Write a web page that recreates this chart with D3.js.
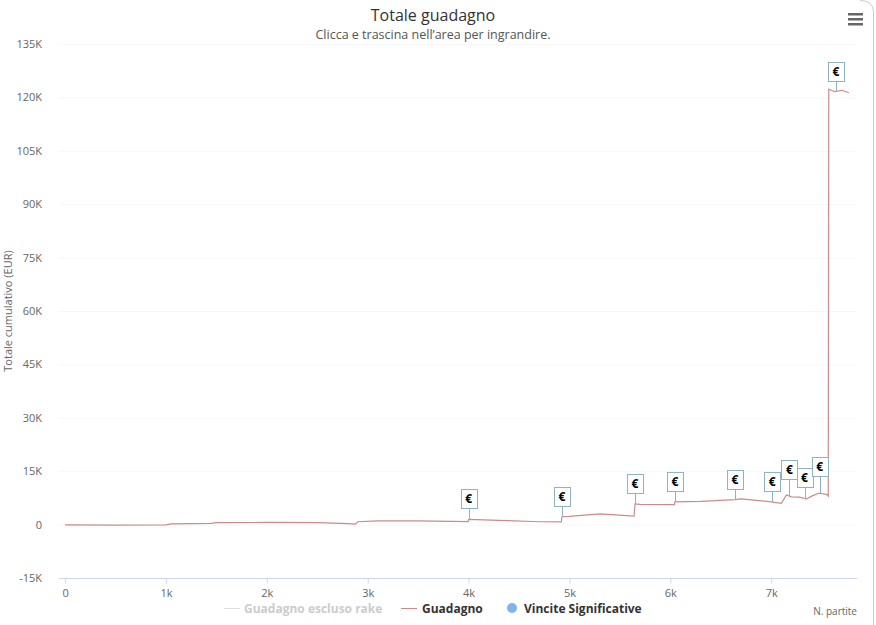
<!DOCTYPE html>
<html><head><meta charset="utf-8">
<script src="https://cdn.jsdelivr.net/npm/d3@7"></script>
<style>body{margin:0;background:#fff}svg{display:block;font-family:"Open Sans",sans-serif}</style>
</head><body><svg id="c" width="876" height="625"></svg>
<script>
// N. partite (games) and cumulative profit (EUR) for "Guadagno"
const games  = [0,500,1000,1050,1450,1500,2000,2500,2800,2880,2900,3100,3500,3995,4000,4300,4700,4920,4925,5000,5300,5640,5650,5700,6040,6045,6300,6640,6700,7000,7100,7150,7200,7280,7350,7400,7470,7550,7565,7570,7630,7700,7770];
const profit = [-100,-150,-100,200,350,550,600,550,300,150,800,1050,1050,850,1450,1200,800,750,2200,2300,3000,2400,5800,5700,5600,6400,6500,7000,7200,6400,6000,8300,7800,7700,7200,8000,8800,8500,8000,122300,121600,122000,121300];
// "Vincite Significative" flags (game index)
const flagGames = [4000,4925,5650,6045,6640,7010,7180,7330,7480,7640];
const yTicks = [-15000,0,15000,30000,45000,60000,75000,90000,105000,120000,135000];
const xTicks = [0,1000,2000,3000,4000,5000,6000,7000];

const svg = d3.select("#c");
const x = d3.scaleLinear().domain([-60,7850]).range([59,857]);
const y = d3.scaleLinear().domain([-15000,135000]).range([578,44]);

// gridlines
svg.append("g").selectAll("line").data(yTicks.slice(1)).join("line")
  .attr("x1",59).attr("x2",857).attr("y1",d=>y(d)+0.5).attr("y2",d=>y(d)+0.5)
  .attr("stroke","#f7f7f7");

// y axis labels
const yAxis = d3.axisLeft(y).tickValues(yTicks).tickSize(0).tickPadding(0)
  .tickFormat(d=>d===0?"0":(d/1000)+"K");
const gy = svg.append("g").attr("transform","translate(42,0)").call(yAxis);
gy.select(".domain").remove();
gy.selectAll("text").attr("fill","#666").style("font-size","11px").style("font-family","Open Sans");

// x axis
const xAxis = d3.axisBottom(x).tickValues(xTicks).tickSize(5).tickPadding(6)
  .tickFormat(d=>d===0?"0":(d/1000)+"k");
const gx = svg.append("g").attr("transform","translate(0,578.5)").call(xAxis);
gx.select(".domain").attr("d","M59,0H857").attr("stroke","#ccd6eb");
gx.selectAll(".tick line").attr("stroke","#ccd6eb");
gx.selectAll("text").attr("fill","#666").style("font-size","11px").style("font-family","Open Sans");

// line
const pts = games.map((g,i)=>[g,profit[i]]);
const line = d3.line().x(d=>x(d[0])).y(d=>y(d[1]));
svg.append("path").datum(pts).attr("d",line).attr("fill","none")
  .attr("stroke","#cc8a8a").attr("stroke-width",1.2);

// flags
function valAt(g){
  for(let i=1;i<games.length;i++){
    if(g<=games[i]){const t=(g-games[i-1])/(games[i]-games[i-1]);return profit[i-1]+t*(profit[i]-profit[i-1]);}
  }
  return profit[profit.length-1];
}
const fg = svg.append("g");
let prevX=-100, prevLvl=0;
flagGames.forEach(g=>{
  const px = x(g), py = y(valAt(g));
  let lvl = 0;
  if(px-prevX<20 && prevLvl===0) lvl=1;
  prevX=px; prevLvl=lvl;
  const top = py - 30 - lvl*6, h=19, w=16;
  fg.append("line").attr("x1",Math.round(px)+0.5).attr("x2",Math.round(px)+0.5)
    .attr("y1",top+h).attr("y2",py).attr("stroke","#8fb4bf");
  fg.append("rect").attr("x",Math.round(px-w/2)+0.5).attr("y",Math.round(top)+0.5)
    .attr("width",w).attr("height",h).attr("fill","#fff").attr("stroke","#8fb4bf");
  fg.append("text").attr("x",px).attr("y",top+14).attr("text-anchor","middle")
    .style("font-size","12px").style("font-weight","bold").attr("fill","#000").text("€");
});

// title & subtitle
svg.append("text").attr("x",433).attr("y",21).attr("text-anchor","middle")
  .style("font-size","16px").attr("fill","#333").text("Totale guadagno");
svg.append("text").attr("x",433).attr("y",39).attr("text-anchor","middle")
  .style("font-size","12.5px").attr("fill","#555").text("Clicca e trascina nell’area per ingrandire.");

// y axis title
svg.append("text").attr("transform","translate(12,311) rotate(-90)").attr("text-anchor","middle")
  .style("font-size","11px").attr("fill","#666").text("Totale cumulativo (EUR)");

// x axis title
svg.append("text").attr("x",857).attr("y",615).attr("text-anchor","end")
  .style("font-size","10px").attr("fill","#666").text("N. partite");

// legend
const lg = svg.append("g").style("font-size","12px").style("font-weight","bold");
lg.append("line").attr("x1",224).attr("x2",240).attr("y1",608.5).attr("y2",608.5).attr("stroke","#ddd");
lg.append("text").attr("x",244).attr("y",613).attr("fill","#ccc").text("Guadagno escluso rake");
lg.append("line").attr("x1",401).attr("x2",417).attr("y1",608.5).attr("y2",608.5).attr("stroke","#cc8a8a");
lg.append("text").attr("x",422).attr("y",613).attr("fill","#333").text("Guadagno");
lg.append("circle").attr("cx",512).attr("cy",608).attr("r",5).attr("fill","#7cb5ec");
lg.append("text").attr("x",524).attr("y",613).attr("fill","#333").text("Vincite Significative");

// menu icon
[14,19,24].forEach(yy=>svg.append("rect").attr("x",848).attr("y",yy-1).attr("width",15).attr("height",2.5).attr("fill","#666"));

// container border (right edge)
svg.append("path").attr("d","M860,0.5 Q873.5,0.5 873.5,12 V625").attr("fill","none").attr("stroke","#ccc");
</script></body></html>
